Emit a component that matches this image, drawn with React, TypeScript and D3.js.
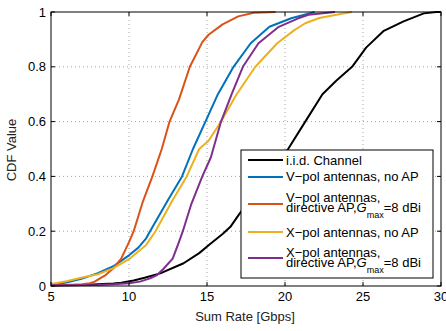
import React from "react";
import * as d3 from "d3";

// CDF curves: [sum rate Gbps, CDF]
const iidChannel: [number, number][] = [
  [5, 0.002], [7, 0.004], [8, 0.006], [9, 0.009], [9.5, 0.012], [10.3, 0.02],
  [11, 0.03], [12, 0.046], [13.5, 0.083], [14.5, 0.12], [15.2, 0.153], [16, 0.19],
  [16.5, 0.216], [17.1, 0.265], [18, 0.33], [19, 0.41], [20.2, 0.5], [21.3, 0.6],
  [22.4, 0.7], [23.3, 0.75], [24.3, 0.8], [25.2, 0.87], [26.3, 0.93], [27.6, 0.966],
  [28.9, 0.995], [29.7, 1], [30, 1],
];
const vpolNoAP: [number, number][] = [
  [5, 0.005], [6, 0.013], [7, 0.027], [8, 0.047], [9, 0.072], [10, 0.112],
  [10.6, 0.14], [11.1, 0.174], [11.35, 0.2], [12.5, 0.314], [13.4, 0.4], [14.1, 0.5],
  [14.9, 0.6], [15.7, 0.7], [16.7, 0.8], [17.8, 0.886], [19, 0.946], [20.4, 0.977],
  [21.9, 1],
];
const vpolDirective: [number, number][] = [
  [5, 0.003], [6, 0.004], [7, 0.006], [7.5, 0.01], [7.8, 0.016], [8.2, 0.03],
  [8.5, 0.04], [9, 0.065], [9.5, 0.1], [10, 0.16], [10.3, 0.2], [10.9, 0.31],
  [11.5, 0.4], [12.1, 0.5], [12.6, 0.6], [13.2, 0.68], [13.9, 0.8], [14.7, 0.89],
  [15.1, 0.917], [16, 0.955], [17, 0.984], [18, 0.997], [19.4, 1],
];
const xpolNoAP: [number, number][] = [
  [5, 0.007], [6, 0.017], [7, 0.031], [8, 0.043], [9, 0.065], [10, 0.098],
  [11.1, 0.15], [11.7, 0.2], [12.8, 0.314], [13.7, 0.4], [14.5, 0.5], [15.1, 0.53],
  [15.9, 0.6], [16.9, 0.7], [18.1, 0.8], [19.5, 0.886], [20.6, 0.934], [21.3, 0.959],
  [22.2, 0.978], [23.3, 0.99], [24.3, 1],
];
const xpolDirective: [number, number][] = [
  [5, 0.003], [8, 0.004], [9, 0.006], [10, 0.01], [10.7, 0.016], [11.35, 0.028],
  [11.8, 0.04], [12.2, 0.062], [12.8, 0.1], [13.2, 0.16], [13.45, 0.2], [14, 0.3],
  [14.7, 0.4], [15.25, 0.47], [15.9, 0.6], [16.6, 0.703], [17.3, 0.8], [18.3, 0.886],
  [19.6, 0.946], [20.85, 0.977], [21.5, 0.99], [23.2, 1],
];

const xTicks = [5, 10, 15, 20, 25, 30];
const yTicks = [0, 0.2, 0.4, 0.6, 0.8, 1];

const series = [
  { name: "iid", data: iidChannel, color: "#000000" },
  { name: "vnoap", data: vpolNoAP, color: "#0072BD" },
  { name: "vdir", data: vpolDirective, color: "#D95319" },
  { name: "xnoap", data: xpolNoAP, color: "#EDB120" },
  { name: "xdir", data: xpolDirective, color: "#7E2F8E" },
];

const W = 446;
const H = 331;
const left = 51;
const right = 441;
const top = 12;
const bottom = 286;
const font = "Liberation Sans, Arial, Helvetica, sans-serif";
const lf = 13; // legend font size

export default function App() {
  const x = d3.scaleLinear().domain([5, 30]).range([left, right]);
  const y = d3.scaleLinear().domain([0, 1]).range([bottom, top]);
  const line = d3
    .line<[number, number]>()
    .x((d) => x(d[0]))
    .y((d) => y(d[1]));

  const lx = 241;
  const ly = 150;
  const lw = 192;
  const lh = 128;

  const Gmax = (base: number) => (
    <text x={286} y={base} fontSize={lf} fontFamily={font}>
      directive AP,<tspan fontStyle="italic">G</tspan>
      <tspan fontSize={9} dy={6}>max</tspan>
      <tspan dy={-6}>=8 dBi</tspan>
    </text>
  );

  return (
    <svg
      width={W}
      height={H}
      style={{ position: "fixed", left: 0, top: 0, background: "#fff" }}
    >
      <rect x={0} y={0} width={W} height={H} fill="#fff" />
      {/* grid */}
      {xTicks.slice(1, -1).map((t) => (
        <line key={"gx" + t} x1={x(t)} x2={x(t)} y1={top} y2={bottom}
          stroke="#8c8c8c" strokeWidth={0.8} strokeDasharray="1 3" />
      ))}
      {yTicks.slice(1, -1).map((t) => (
        <line key={"gy" + t} x1={left} x2={right} y1={y(t)} y2={y(t)}
          stroke="#8c8c8c" strokeWidth={0.8} strokeDasharray="1 3" />
      ))}
      {/* curves */}
      {series.map((s) => (
        <path key={s.name} d={line(s.data) || ""} fill="none" stroke={s.color}
          strokeWidth={2} strokeLinejoin="round" />
      ))}
      {/* box and ticks */}
      <rect x={left} y={top} width={right - left} height={bottom - top}
        fill="none" stroke="#000" strokeWidth={1} />
      {xTicks.map((t) => (
        <g key={"tx" + t}>
          <line x1={x(t)} x2={x(t)} y1={bottom} y2={bottom - 4} stroke="#000" />
          <line x1={x(t)} x2={x(t)} y1={top} y2={top + 4} stroke="#000" />
          <text x={x(t)} y={301} textAnchor="middle" fontSize={13} fontFamily={font}>
            {t}
          </text>
        </g>
      ))}
      {yTicks.map((t) => (
        <g key={"ty" + t}>
          <line x1={left} x2={left + 4} y1={y(t)} y2={y(t)} stroke="#000" />
          <line x1={right} x2={right - 4} y1={y(t)} y2={y(t)} stroke="#000" />
          <text x={46} y={y(t) + 4.5} textAnchor="end" fontSize={13} fontFamily={font}>
            {t}
          </text>
        </g>
      ))}
      <text x={245} y={321} textAnchor="middle" fontSize={13} fontFamily={font} fill="#222">
        Sum Rate [Gbps]
      </text>
      <text transform="translate(16,150) rotate(-90)" textAnchor="middle"
        fontSize={13} fontFamily={font} fill="#222">
        CDF Value
      </text>
      {/* legend */}
      <rect x={lx} y={ly} width={lw} height={lh} fill="#fff" stroke="#000" strokeWidth={1} />
      {[160, 177, 204, 232, 258].map((yy, i) => (
        <line key={"ll" + i} x1={248} x2={283} y1={yy} y2={yy}
          stroke={series[i].color} strokeWidth={2} />
      ))}
      <text x={286} y={165} fontSize={lf} fontFamily={font}>i.i.d. Channel</text>
      <text x={286} y={181} fontSize={lf} fontFamily={font}>V−pol antennas, no AP</text>
      <text x={286} y={202} fontSize={lf} fontFamily={font}>V−pol antennas,</text>
      {Gmax(212)}
      <text x={286} y={236.5} fontSize={lf} fontFamily={font}>X−pol antennas, no AP</text>
      <text x={286} y={257} fontSize={lf} fontFamily={font}>X−pol antennas,</text>
      {Gmax(267)}
    </svg>
  );
}
